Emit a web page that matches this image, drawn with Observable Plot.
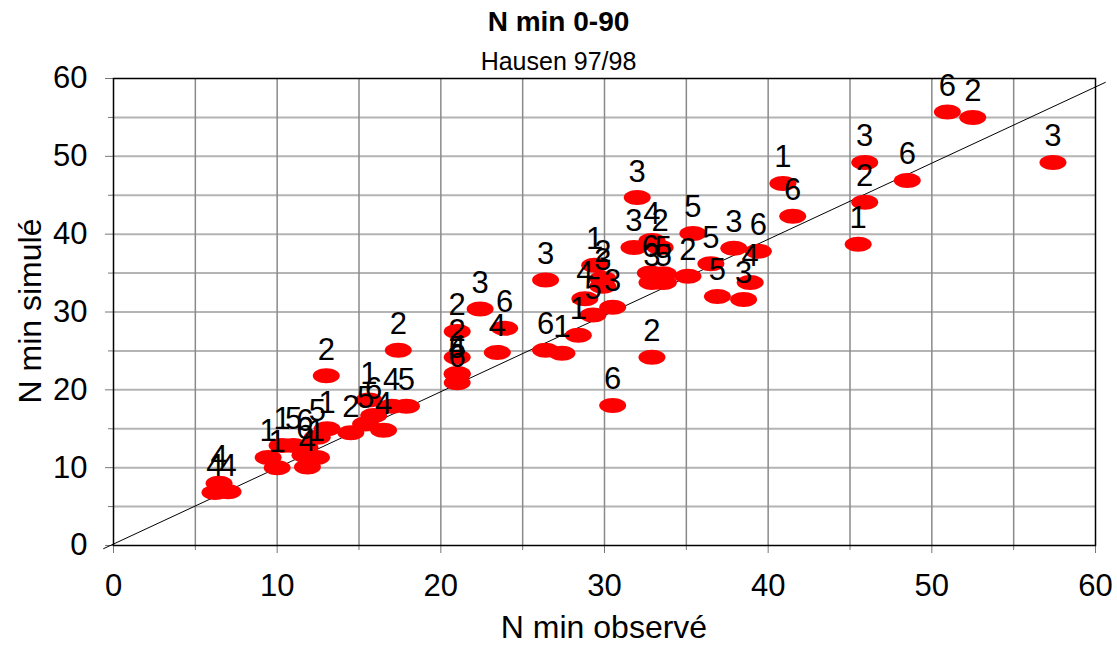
<!DOCTYPE html>
<html>
<head>
<meta charset="utf-8">
<script src="https://cdn.jsdelivr.net/npm/d3@7"></script>
<script src="https://cdn.jsdelivr.net/npm/@observablehq/plot@0.6"></script>
<style>
  html, body { margin: 0; padding: 0; background: #fff; }
  body { width: 1117px; height: 646px; position: relative; overflow: hidden; font-family: "Liberation Sans", Arial, sans-serif; }
  #chart { position: absolute; left: 0; top: 0; }
  .ov { position: absolute; white-space: nowrap; color: #000; }
  #title { left: 0; width: 1117px; text-align: center; top: 5px; line-height: 34px; font-size: 28px; font-weight: bold; }
  #subtitle { left: 0; width: 1117px; text-align: center; top: 46px; line-height: 30px; font-size: 25px; }
  #ylab { left: 30px; top: 311px; transform: translate(-50%, -50%) rotate(-90deg); font-size: 32px; }
  #xlab { left: 604px; top: 627px; transform: translate(-50%, -50%); font-size: 32px; }
</style>
</head>
<body>
<div id="chart"></div>
<div class="ov" id="title">N min 0-90</div>
<div class="ov" id="subtitle">Hausen 97/98</div>
<div class="ov" id="ylab">N min simulé</div>
<div class="ov" id="xlab">N min observé</div>
<script>
// ---- data ----
const seriesNames = ["1", "2", "3", "4", "5", "6"];
const obs1 = [9.45, 10.0, 10.3, 13.05, 12.4, 15.6, 27.4, 28.4, 29.4, 40.9, 45.5];
const sim1 = [11.3, 10.0, 12.85, 15.0, 11.3, 18.7, 24.7, 27.0, 36.0, 46.5, 38.7];
const obs2 = [13.0, 17.4, 14.5, 21.0, 21.0, 29.9, 32.9, 33.4, 35.1, 45.9, 52.5];
const sim2 = [21.8, 25.1, 14.5, 27.5, 24.2, 34.3, 24.2, 38.3, 34.6, 44.1, 55.0];
const obs3 = [22.4, 26.4, 29.9, 30.5, 32.0, 31.8, 32.9, 37.9, 38.5, 45.9, 57.4];
const sim3 = [30.4, 34.1, 33.3, 30.6, 44.7, 38.3, 33.8, 38.2, 31.6, 49.2, 49.2];
const obs4 = [6.45, 6.2, 7.0, 11.85, 16.5, 17.0, 21.0, 23.45, 28.8, 32.9, 38.9];
const sim4 = [8.0, 6.8, 6.9, 10.1, 14.8, 17.9, 22.1, 24.8, 31.7, 39.2, 33.8];
const obs5 = [11.0, 12.45, 15.4, 17.9, 21.0, 29.3, 33.6, 33.6, 35.4, 36.5, 36.9];
const sim5 = [12.85, 13.9, 15.6, 17.9, 22.0, 29.6, 34.9, 33.8, 40.1, 36.2, 32.0];
const obs6 = [11.7, 11.7, 15.9, 21.0, 23.9, 26.4, 30.5, 32.8, 39.4, 41.5, 48.5, 50.95];
const sim6 = [12.6, 11.6, 16.7, 20.9, 27.9, 25.1, 18.0, 35.0, 37.8, 42.3, 46.9, 55.7];
const diagObs = [-0.6, 60.6];
const diagSim = [-0.4, 59.5];
const majorTicks = [0, 10, 20, 30, 40, 50, 60];
const minorTicks = [5, 15, 25, 35, 45, 55];
const gridValues = [5, 10, 15, 20, 25, 30, 35, 40, 45, 50, 55];

// ---- build tables ----
const obsAll = [obs1, obs2, obs3, obs4, obs5, obs6];
const simAll = [sim1, sim2, sim3, sim4, sim5, sim6];
const points = [];
seriesNames.forEach((name, i) => {
  obsAll[i].forEach((x, j) => points.push({name, x, y: simAll[i][j]}));
});
const diag = diagObs.map((x, i) => ({x, y: diagSim[i]}));

const ellipse = {
  draw(context) {
    const rx = 13.5, ry = 7.5, k = 0.5523;
    context.moveTo(rx, 0);
    context.bezierCurveTo(rx, ry * k, rx * k, ry, 0, ry);
    context.bezierCurveTo(-rx * k, ry, -rx, ry * k, -rx, 0);
    context.bezierCurveTo(-rx, -ry * k, -rx * k, -ry, 0, -ry);
    context.bezierCurveTo(rx * k, -ry, rx, -ry * k, rx, 0);
    context.closePath();
  }
};

const chart = Plot.plot({
  width: 1117,
  height: 646,
  marginLeft: 113,
  marginRight: 22,
  marginTop: 78,
  marginBottom: 101,
  style: {fontFamily: "Liberation Sans, Arial, sans-serif", background: "white", color: "black"},
  x: {domain: [0, 60], label: null},
  y: {domain: [0, 60], label: null},
  marks: [
    Plot.ruleY(gridValues, {stroke: "#b4b4b4", strokeWidth: 2}),
    Plot.ruleX(gridValues, {stroke: "#8a8a8a", strokeWidth: 1.5}),
    Plot.axisX(majorTicks, {tickSize: 8, tickPadding: 20, fontSize: 31, label: null, stroke: "#777", tickFormat: d => String(d)}),
    Plot.axisX(minorTicks, {tickSize: 5, text: null, label: null, stroke: "#777"}),
    Plot.axisY(majorTicks, {tickSize: 8, tickPadding: 18, fontSize: 31, label: null, stroke: "#777", tickFormat: d => String(d)}),
    Plot.axisY(minorTicks, {tickSize: 5, text: null, label: null, stroke: "#777"}),
    Plot.frame({stroke: "black", strokeWidth: 1.5}),
    Plot.line(diag, {x: "x", y: "y", stroke: "black", strokeWidth: 1}),
    Plot.dot(points, {x: "x", y: "y", symbol: ellipse, fill: "#ff0000", stroke: "none"}),
    Plot.text(points, {x: "x", y: "y", text: "name", dy: -26, fontSize: 31, fill: "black"})
  ]
});
document.getElementById("chart").appendChild(chart);
</script>
</body>
</html>
